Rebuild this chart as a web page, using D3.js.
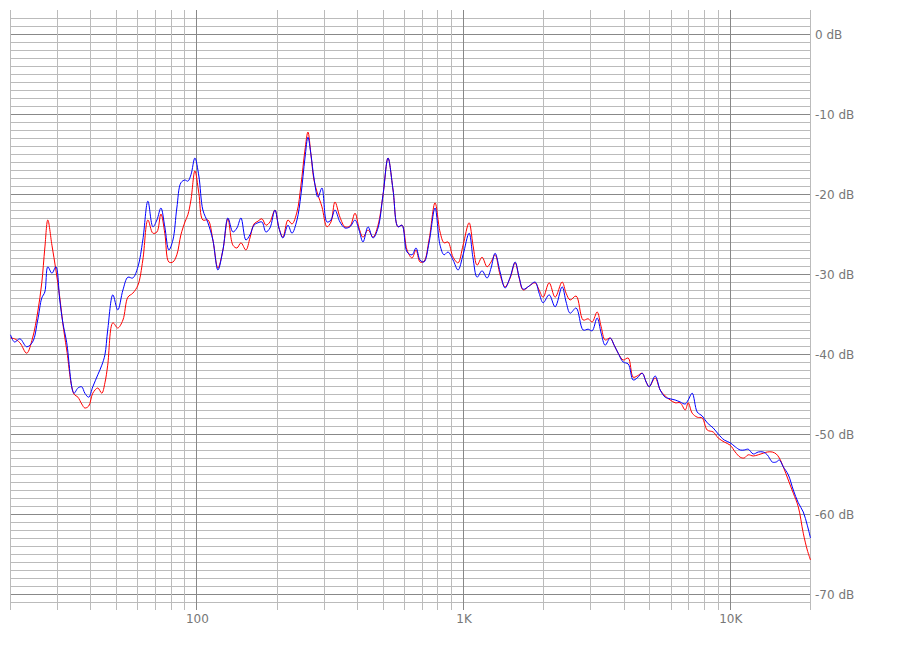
<!DOCTYPE html>
<html>
<head>
<meta charset="utf-8">
<script src="https://cdn.jsdelivr.net/npm/d3@7"></script>
<style>
  html, body { margin: 0; padding: 0; background: #fff; }
  svg { display: block; }
  text { font-family: "DejaVu Sans", sans-serif; }
</style>
</head>
<body>
<svg id="chart" width="900" height="650"></svg>
<script>
// Frequencies (Hz)
const freqs = [20,20.7,21.7,23.0,24.2,25.3,26.2,26.9,27.6,28.6,29.6,30.6,31.4,32.5,34.6,35.8,37.0,38.0,39.3,40.7,
  42.5,44.0,45.2,46.3,48.4,50.5,52.8,55.1,57.5,60.1,62.7,65.5,68.4,70.8,73.3,75.8,78.5,81.3,84.1,87.1,
  90.2,92.5,95.0,98.3,101.7,105.3,110.0,114.8,119.9,125.2,130.7,136.5,141.3,146.3,152.7,158.1,163.7,169.4,175.4,181.5,
  187.9,196.2,203.1,210.2,219.5,227.3,237.3,245.6,254.3,260.9,267.8,274.8,284.4,294.4,307.4,318.2,329.4,344.0,359.2,375.1,
  391.7,405.5,419.7,438.3,457.6,477.8,498.9,520.9,544.0,567.9,587.9,613.8,640.9,663.4,686.7,710.8,742.2,781.8,816.3,845.0,
  874.7,913.3,953.7,995.7,1049,1085,1124,1173,1225,1268,1313,1371,1431,1495,1561,1616,1673,1762,1855,1920,
  1988,2094,2205,2342,2424,2510,2643,2808,2933,3036,3169,3281,3396,3546,3671,3800,3968,4143,4325,4477,
  4675,4840,4967,5231,5462,5703,5955,6218,6493,6779,6957,7202,7520,7852,8198,8635,9016,9495,10000,10440,
  10900,11280,11680,12200,12740,13300,13770,14380,14880,15280,15810,16510,17240,18000,18790,19450,20000];

// Red series (dB)
const redDb = [-38.0,-38.1,-38.6,-39.9,-38.0,-34.75,-31.1,-26.75,-23.25,-26.4,-29.5,-32.9,-36.1,-39.5,-45.0,-45.4,-46.25,-46.75,-46.5,-44.9,
  -44.25,-44.9,-43.6,-41.4,-36.1,-36.75,-35.75,-32.9,-32.4,-31.4,-28.25,-23.25,-24.9,-24.75,-22.5,-24.9,-28.5,-28.5,-27.6,-25.1,
  -23.5,-22.6,-20.75,-17.1,-19.9,-23.25,-23.25,-25.75,-29.25,-27.0,-23.1,-26.4,-26.75,-26.1,-27.0,-25.5,-23.75,-23.4,-23.1,-23.9,
  -23.5,-22.0,-24.25,-25.4,-23.25,-23.75,-22.25,-18.9,-14.5,-12.25,-15.1,-18.25,-20.1,-21.6,-24.1,-23.5,-21.0,-22.9,-24.1,-24.0,
  -22.4,-24.25,-25.4,-24.5,-25.4,-23.9,-20.1,-15.5,-19.5,-24.1,-23.9,-27.0,-28.0,-27.0,-28.5,-28.4,-25.75,-21.1,-24.75,-26.1,
  -26.0,-27.9,-28.6,-26.4,-23.6,-26.4,-28.9,-27.9,-29.1,-28.5,-27.6,-30.1,-31.6,-30.5,-28.6,-30.5,-32.0,-31.5,-31.1,-32.0,
  -32.9,-31.1,-32.9,-31.0,-32.4,-33.25,-32.75,-35.75,-35.6,-36.0,-34.75,-36.6,-38.25,-38.0,-38.9,-39.9,-40.75,-40.5,-42.9,-42.75,
  -42.4,-43.5,-44.1,-43.0,-44.5,-45.25,-45.75,-46.1,-46.1,-47.0,-46.1,-47.4,-47.9,-48.0,-49.5,-49.75,-50.5,-51.0,-51.4,-52.25,
  -52.9,-53.0,-52.6,-52.75,-52.6,-52.4,-52.25,-52.25,-52.5,-53.0,-54.1,-55.75,-57.4,-59.1,-62.4,-64.5,-65.75];

// Blue series (dB)
const blueDb = [-37.6,-38.5,-38.1,-39.1,-38.5,-35.75,-33.0,-32.25,-29.1,-29.9,-29.1,-33.25,-36.0,-38.6,-44.9,-44.25,-44.1,-44.9,-45.4,-44.1,
  -42.6,-41.4,-40.1,-37.0,-32.6,-34.5,-32.0,-30.4,-30.5,-29.1,-25.75,-20.9,-24.1,-23.25,-21.75,-24.1,-27.0,-25.75,-21.75,-18.6,
  -18.25,-18.4,-17.6,-15.5,-17.75,-22.0,-23.6,-25.75,-29.5,-27.0,-23.0,-24.75,-24.25,-23.0,-25.75,-25.1,-23.9,-23.6,-23.5,-24.75,
  -24.25,-22.0,-24.25,-25.5,-23.9,-24.9,-23.25,-20.1,-15.5,-12.9,-15.1,-18.0,-20.4,-19.25,-23.5,-23.25,-22.0,-23.5,-24.25,-24.1,
  -23.25,-24.5,-26.0,-24.1,-25.5,-24.25,-20.1,-15.5,-19.5,-24.1,-23.9,-27.25,-27.6,-26.75,-28.25,-28.5,-26.1,-21.75,-26.4,-27.6,
  -27.25,-28.25,-29.5,-27.6,-24.9,-28.0,-30.4,-29.6,-30.5,-29.25,-27.4,-29.75,-31.75,-30.4,-28.5,-30.4,-31.9,-31.5,-31.0,-32.4,
  -33.6,-32.6,-34.1,-31.6,-33.5,-34.9,-34.25,-37.0,-36.9,-37.1,-35.5,-37.4,-38.9,-38.0,-38.9,-39.9,-41.0,-41.25,-43.25,-43.0,
  -42.4,-43.5,-44.1,-42.75,-44.5,-45.4,-45.6,-45.75,-46.0,-46.25,-45.75,-44.9,-47.25,-47.75,-48.6,-49.25,-50.0,-50.75,-51.1,-51.6,
  -52.0,-52.0,-51.9,-52.5,-52.25,-52.25,-52.6,-53.5,-53.5,-53.25,-54.1,-55.1,-57.0,-58.6,-59.75,-61.4,-63.0];

// Axis labels
const xTickValues = [100, 1000, 10000];
const xTickLabels = ["100", "1K", "10K"];
const yTickValues = [0, -10, -20, -30, -40, -50, -60, -70];

const svg = d3.select("#chart");
const x = d3.scaleLog().domain([20, 20000]).range([10.5, 810.5]);
const y = d3.scaleLinear().domain([3, -72]).range([10, 610]);
const snap = v => Math.round(v - 0.5) + 0.5;

const grid = svg.append("g");
// horizontal grid: every 1 dB from -71 to +2
const hVals = d3.range(-71, 3, 1);
grid.selectAll("line.h").data(hVals).enter().append("line")
  .attr("x1", 10).attr("x2", 811)
  .attr("y1", d => Math.round(y(d)) + 0.5).attr("y2", d => Math.round(y(d)) + 0.5)
  .attr("stroke", d => d % 10 === 0 ? "#888" : "#bbb")
  .attr("stroke-width", 1);

// vertical grid
const vVals = [];
[10, 100, 1000, 10000].forEach(dec => {
  for (let m = 1; m <= 9; m++) {
    const f = dec * m;
    if (f >= 20 && f <= 20000) vVals.push(f);
  }
});
vVals.push(20000);
grid.selectAll("line.v").data(vVals).enter().append("line")
  .attr("x1", d => snap(x(d))).attr("x2", d => snap(x(d)))
  .attr("y1", 10).attr("y2", 610)
  .attr("stroke", d => (d === 100 || d === 1000 || d === 10000) ? "#888" : "#bbb")
  .attr("stroke-width", 1);

// axes (labels only)
const yAxis = d3.axisRight(y).tickValues(yTickValues).tickSize(0).tickPadding(5)
  .tickFormat(d => d + " dB");
const gy = svg.append("g").attr("transform", "translate(810,0.5)").call(yAxis);
gy.select(".domain").remove();
gy.selectAll("text").attr("fill", "#777").style("font-size", "12px").style("font-family", "'DejaVu Sans', sans-serif");

const xAxis = d3.axisBottom(x).tickValues(xTickValues).tickSize(0).tickPadding(4)
  .tickFormat((d, i) => xTickLabels[i]);
const gx = svg.append("g").attr("transform", "translate(0,610)").call(xAxis);
gx.select(".domain").remove();
gx.selectAll("text").attr("fill", "#777").style("font-size", "12px").style("font-family", "'DejaVu Sans', sans-serif");

// lines
const line = data => d3.line()
  .x((d, i) => x(freqs[i]))
  .y(d => y(d))
  .curve(d3.curveCatmullRom.alpha(0.5))(data);

svg.append("path").attr("d", line(redDb)).attr("fill", "none")
  .attr("stroke", "#ff0000").attr("stroke-width", 1);
svg.append("path").attr("d", line(blueDb)).attr("fill", "none")
  .attr("stroke", "#0000ff").attr("stroke-width", 1);
</script>
</body>
</html>
